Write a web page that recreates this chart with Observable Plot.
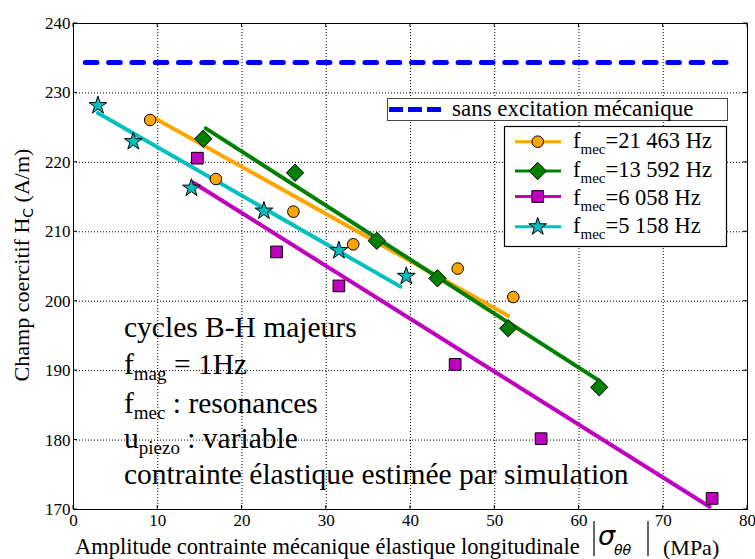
<!DOCTYPE html>
<html><head><meta charset="utf-8">
<script src="https://cdn.jsdelivr.net/npm/d3@7"></script>
<script src="https://cdn.jsdelivr.net/npm/@observablehq/plot@0.6"></script>
<style>
html,body{margin:0;padding:0;background:#fff}
#chart{width:755px;height:559px;overflow:hidden}
</style>
</head><body><div id="chart"></div>
<script>
// ---------- data ----------
const xTicks = [0, 10, 20, 30, 40, 50, 60, 70, 80];
const yTicks = [170, 180, 190, 200, 210, 220, 230, 240];

const freqLabels = ["21 463 Hz", "13 592 Hz", "6 058 Hz", "5 158 Hz"];
const refLabel = "sans excitation mécanique";

// measured points (|sigma| in MPa, Hc in A/m)
const x21463 = [9.1, 16.9, 26.1, 33.2, 45.6, 52.2];
const y21463 = [226.1, 217.6, 212.9, 208.2, 204.7, 200.6];
const x13592 = [15.4, 26.3, 36.0, 43.2, 51.6, 62.4];
const y13592 = [223.4, 218.5, 208.7, 203.3, 196.1, 187.6];
const x6058 = [14.7, 24.1, 31.5, 45.3, 55.5, 75.8];
const y6058 = [220.6, 207.1, 202.2, 190.9, 180.2, 171.6];
const x5158 = [2.9, 7.1, 14.0, 22.6, 31.5, 39.5];
const y5158 = [228.2, 223.0, 216.3, 213.0, 207.3, 203.6];

// fitted trend lines (start / end)
const fitX21463 = [9.6, 51.6], fitY21463 = [226.4, 197.9];
const fitX13592 = [15.7, 62.2], fitY13592 = [224.9, 188.7];
const fitX6058 = [14.2, 75.5], fitY6058 = [217.1, 170.4];
const fitX5158 = [2.9, 38.8], fitY5158 = [227.1, 202.1];

// reference without mechanical excitation
const refX = [1.4, 77.9];
const refY = [234.4, 234.4];

// ---------- styles ----------
const colors = ["#FFA500", "#008000", "#BF00BF", "#00BFBF"];
const symbolNames = ["circle", "diamond2", "square", "star"];
const d3Symbols = [d3.symbolCircle, d3.symbolDiamond2, d3.symbolSquare, d3.symbolStar];
const radii = [5.8, 7.8, 6.6, 5.6];

const ptsX = [x21463, x13592, x6058, x5158];
const ptsY = [y21463, y13592, y6058, y5158];
const fitXs = [fitX21463, fitX13592, fitX6058, fitX5158];
const fitYs = [fitY21463, fitY13592, fitY6058, fitY5158];

const SERIF = "'Liberation Serif', 'Times New Roman', serif";
const SANS = "'DejaVu Sans', sans-serif";

const lineMarks = fitXs.map((fx, i) =>
  Plot.line(fx.map((x, j) => ({x, y: fitYs[i][j]})), {x: "x", y: "y", stroke: colors[i], strokeWidth: 4})
);
const dotMarks = ptsX.map((xs, i) =>
  Plot.dot(xs.map((x, j) => ({x, y: ptsY[i][j]})), {
    x: "x", y: "y", symbol: () => symbolNames[i], r: radii[i],
    fill: colors[i], stroke: "black", strokeWidth: 1
  })
);

const chart = Plot.plot({
  width: 755, height: 559,
  marginLeft: 73, marginRight: 8, marginTop: 23, marginBottom: 50,
  x: {domain: [0, 80]},
  y: {domain: [170, 240]},
  symbol: {type: "identity"},
  style: {fontFamily: SERIF, fontSize: "17px", color: "black", background: "white"},
  marks: [
    Plot.gridX(xTicks, {stroke: "black", strokeOpacity: 1, strokeWidth: 1, strokeDasharray: "1,2"}),
    Plot.gridY(yTicks, {stroke: "black", strokeOpacity: 1, strokeWidth: 1, strokeDasharray: "1,2"}),
    Plot.axisX(xTicks, {tickSize: 0, tickPadding: 4, label: null, fontSize: 17}),
    Plot.axisY(yTicks, {tickSize: 0, tickPadding: 3, label: null, fontSize: 17}),
    Plot.line(refX.map((x, j) => ({x, y: refY[j]})), {x: "x", y: "y", stroke: "#0000FF", strokeWidth: 5, strokeDasharray: "11.6,11.7"}),
    ...lineMarks,
    ...dotMarks,
    Plot.frame({stroke: "black", strokeWidth: 1})
  ]
});
document.getElementById("chart").appendChild(chart);

// ---------- overlays (ticks, labels, legends, annotation) ----------
const svg = d3.select(chart);
const sx = chart.scale("x"), sy = chart.scale("y");
const X = v => sx.apply(v), Y = v => sy.apply(v);
const x0 = X(0), x1 = X(80), y0 = Y(170), y1 = Y(240);

const tk = svg.append("g").attr("stroke", "black").attr("stroke-width", 1);
xTicks.forEach(t => {
  tk.append("line").attr("x1", X(t)).attr("x2", X(t)).attr("y1", y0).attr("y2", y0 - 4);
  tk.append("line").attr("x1", X(t)).attr("x2", X(t)).attr("y1", y1).attr("y2", y1 + 4);
});
yTicks.forEach(t => {
  tk.append("line").attr("y1", Y(t)).attr("y2", Y(t)).attr("x1", x0).attr("x2", x0 + 4);
  tk.append("line").attr("y1", Y(t)).attr("y2", Y(t)).attr("x1", x1).attr("x2", x1 - 4);
});

// y axis label
const yl = svg.append("text")
  .attr("transform", `translate(29,${(y0 + y1) / 2 - 1}) rotate(-90)`)
  .attr("text-anchor", "middle").attr("font-family", SERIF).attr("font-size", 22).attr("fill", "black");
yl.append("tspan").text("Champ coercitif H");
yl.append("tspan").attr("font-family", SANS).attr("font-size", 14).attr("dy", 4).text("C");
yl.append("tspan").attr("dy", -4).text(" (A/m)");

// x axis label
const xl = svg.append("g").attr("font-family", SERIF).attr("fill", "black").attr("text-anchor", "start");
xl.append("text").attr("x", 75).attr("y", 554).attr("font-size", 22.5)
  .text("Amplitude contrainte mécanique élastique longitudinale");
xl.append("line").attr("x1", 594).attr("x2", 594).attr("y1", 521).attr("y2", 556).attr("stroke", "black").attr("stroke-width", 1.2);
xl.append("line").attr("x1", 648).attr("x2", 648).attr("y1", 521).attr("y2", 556).attr("stroke", "black").attr("stroke-width", 1.2);
xl.append("text").attr("x", 598).attr("y", 545).attr("font-family", SANS).attr("font-style", "italic").attr("font-size", 27).text("σ");
xl.append("text").attr("x", 614).attr("y", 555).attr("font-family", SANS).attr("font-style", "italic").attr("font-size", 14).text("θθ");
xl.append("text").attr("x", 663).attr("y", 555).attr("font-size", 22).text("(MPa)");

// annotation block
const ann = svg.append("g").attr("font-family", SERIF).attr("font-size", 29.5).attr("fill", "black").attr("text-anchor", "start");
const annX = 124;
const subFs = 19, subDy = 6;
ann.append("text").attr("x", annX).attr("y", 337).text("cycles B-H majeurs");
const a2 = ann.append("text").attr("x", annX).attr("y", 374);
a2.append("tspan").text("f");
a2.append("tspan").attr("font-size", subFs).attr("dy", subDy).text("mag");
a2.append("tspan").attr("dy", -subDy).text(" = 1Hz");
const a3 = ann.append("text").attr("x", annX).attr("y", 412.7);
a3.append("tspan").text("f");
a3.append("tspan").attr("font-size", subFs).attr("dy", subDy).text("mec");
a3.append("tspan").attr("dy", -subDy).text(" : resonances");
const a4 = ann.append("text").attr("x", annX).attr("y", 448.3);
a4.append("tspan").text("u");
a4.append("tspan").attr("font-size", subFs).attr("dy", subDy).text("piezo");
a4.append("tspan").attr("dy", -subDy).text(" : variable");
ann.append("text").attr("x", annX).attr("y", 484).text("contrainte élastique estimée par simulation");

// legend 1
const lg1 = svg.append("g").attr("text-anchor", "start");
lg1.append("rect").attr("x", 387.5).attr("y", 98.5).attr("width", 340).attr("height", 22)
  .attr("fill", "white").attr("stroke", "#444").attr("stroke-width", 1);
lg1.append("line").attr("x1", 389).attr("x2", 441).attr("y1", 109.5).attr("y2", 109.5)
  .attr("stroke", "#0000FF").attr("stroke-width", 5).attr("stroke-dasharray", "14,5");
lg1.append("text").attr("x", 452).attr("y", 116).attr("font-family", SERIF).attr("font-size", 23).attr("fill", "black").text(refLabel);

// legend 2
const lg2 = svg.append("g").attr("text-anchor", "start");
lg2.append("rect").attr("x", 504.5).attr("y", 126.5).attr("width", 222).attr("height", 120)
  .attr("fill", "white").attr("stroke", "black").attr("stroke-width", 1.2);
const rowY = [141.7, 171, 196.5, 226.7];
const txtY = [147.7, 176.7, 205, 233.3];
freqLabels.forEach((lab, i) => {
  lg2.append("line").attr("x1", 515).attr("x2", 561).attr("y1", rowY[i]).attr("y2", rowY[i])
    .attr("stroke", colors[i]).attr("stroke-width", 3);
  lg2.append("path").attr("transform", `translate(537.7,${rowY[i]})`)
    .attr("d", d3.symbol(d3Symbols[i], Math.PI * radii[i] * radii[i])())
    .attr("fill", colors[i]).attr("stroke", "black").attr("stroke-width", 1);
  const t = lg2.append("text").attr("x", 573).attr("y", txtY[i]).attr("font-family", SERIF).attr("font-size", 22.5).attr("fill", "black");
  t.append("tspan").text("f");
  t.append("tspan").attr("font-size", 15).attr("dy", 6).text("mec");
  t.append("tspan").attr("dy", -6).text("=" + lab);
});
</script>
</body></html>
